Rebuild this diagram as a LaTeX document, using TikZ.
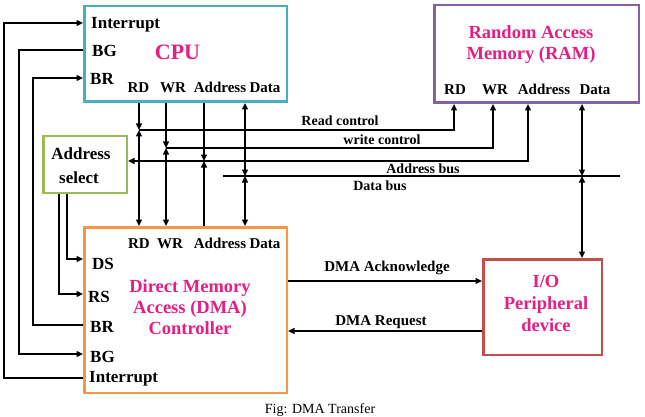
\documentclass[tikz,border=0pt]{standalone}
\usepackage{fontspec}
\setmainfont{Liberation Serif}
\usetikzlibrary{arrows.meta}
\definecolor{cpuc}{RGB}{75,172,198}
\definecolor{ramc}{RGB}{128,100,162}
\definecolor{asc}{RGB}{155,187,89}
\definecolor{dmac}{RGB}{247,150,70}
\definecolor{ioc}{RGB}{192,80,77}
\definecolor{pinkt}{RGB}{228,30,130}
\begin{document}
\begin{tikzpicture}[x=1pt,y=-1pt,
  box/.style={draw, line width=2.5pt, fill=white, inner sep=0pt},
  lab/.style={font=\fontsize{17}{17}\selectfont\bfseries, inner sep=0pt, anchor=base west},
  portlab/.style={font=\fontsize{15}{15}\selectfont\bfseries, inner sep=0pt, anchor=base},
  buslab/.style={font=\fontsize{14}{14}\selectfont\bfseries, inner sep=0pt, anchor=base},
  ttl/.style={font=\fontsize{18.5}{21.5}\selectfont\bfseries, text=pinkt, align=center, inner sep=0pt},
  wire/.style={line width=1.5pt},
  arr/.style={wire, -{Triangle[length=6.5pt,width=6pt]}},
  arrb/.style={wire, {Triangle[length=6.5pt,width=6pt]}-{Triangle[length=6.5pt,width=6pt]}},
  databus/.style={line width=1.1pt}
]
\path[use as bounding box] (0,0) rectangle (645,417);

% boxes
\node[box, draw=cpuc, minimum width=202.5pt, minimum height=95.5pt] (cpu) at (185.5,54) {};
\node[box, draw=ramc, minimum width=204.5pt, minimum height=97.5pt] (ram) at (536.5,54) {};
\node[box, draw=asc, minimum width=83.5pt, minimum height=56.5pt] (as) at (85,164.5) {};
\node[box, draw=dmac, minimum width=202.5pt, minimum height=165.5pt] (dma) at (185.5,310) {};
\node[box, draw=ioc, minimum width=118.5pt, minimum height=95.5pt] (io) at (542.5,307) {};

% titles
\node[ttl, font=\fontsize{22}{22}\selectfont\bfseries, anchor=base] (cputtl) at (177.5,60) {CPU};
\node[ttl, anchor=base] (ramttl1) at (531,39) {Random Access};
\node[ttl, anchor=base] (ramttl2) at (531,60) {Memory (RAM)};
\node[ttl, anchor=base] (dmattl1) at (190,292) {Direct Memory};
\node[ttl, anchor=base] (dmattl2) at (190,313) {Access (DMA)};
\node[ttl, anchor=base] (dmattl3) at (190,334) {Controller};
\node[ttl, anchor=base] (iottl1) at (546,287) {I/O};
\node[ttl, anchor=base] (iottl2) at (546,309) {Peripheral};
\node[ttl, anchor=base] (iottl3) at (546,331) {device};
\node[lab, anchor=base] (astxt1) at (81,160) {Address};
\node[lab, anchor=base] (astxt2) at (79,183) {select};

% CPU labels
\node[lab] (cI) at (91,29) {Interrupt};
\node[lab] (cG) at (92,57) {BG};
\node[lab] (cR) at (90,85) {BR};
\node[portlab] (cRD) at (138.5,93) {RD};
\node[portlab] (cWR) at (173,93) {WR};
\node[portlab] (cAD) at (220,93) {Address};
\node[portlab] (cDA) at (265,93) {Data};

% DMA labels
\node[portlab] (dRD) at (139,248) {RD};
\node[portlab] (dWR) at (170,248) {WR};
\node[portlab] (dAD) at (220,248) {Address};
\node[portlab] (dDA) at (265,248) {Data};
\node[lab] (dDS) at (92,269) {DS};
\node[lab] (dRS) at (88,302) {RS};
\node[lab] (dBR) at (90,332) {BR};
\node[lab] (dBG) at (90,362) {BG};
\node[lab] (dI) at (89,382) {Interrupt};

% RAM labels
\node[portlab] (rRDt) at (455,95) {RD};
\node[portlab] (rWRt) at (495,95) {WR};
\node[portlab] (rADt) at (544,95) {Address};
\node[portlab] (rDAt) at (595,95) {Data};

% bus labels
\node[buslab] (lrc) at (340,125) {Read control};
\node[buslab] (lwc) at (382,144) {write control};
\node[buslab] (lab) at (423,173) {Address bus};
\node[buslab] (ldb) at (380,190) {Data bus};
\node[buslab, font=\fontsize{15}{15}\selectfont\bfseries] (lack) at (387,271) {DMA Acknowledge};
\node[buslab, font=\fontsize{15}{15}\selectfont\bfseries] (lreq) at (381,325) {DMA Request};

% caption
\node[inner sep=0pt, anchor=base, font=\fontsize{14}{14}\selectfont] (cap) at (320,413) {Fig: DMA Transfer};

% coordinates
\coordinate (xRD) at (139,0);
\coordinate (xWR) at (166,0);
\coordinate (xAD) at (204,0);
\coordinate (xDA) at (245,0);
\coordinate (rRD) at (454,0);
\coordinate (rWR) at (493,0);
\coordinate (rAD) at (528,0);
\coordinate (rDA) at (582,0);
\coordinate (yRC) at (0,130);
\coordinate (yWC) at (0,148);
\coordinate (yAB) at (0,161);
\coordinate (yDB) at (0,176);
\coordinate (dbL) at (223,176);
\coordinate (dbR) at (620,176);
\coordinate (xI) at (4,0);
\coordinate (xG) at (19,0);
\coordinate (xR) at (33,0);
\coordinate (xRS) at (59,0);
\coordinate (xDS) at (67,0);
\coordinate (ycI) at (0,23);
\coordinate (ycG) at (0,50);
\coordinate (ycR) at (0,78);
\coordinate (ydS) at (0,259);
\coordinate (ydR) at (0,294);
\coordinate (ydBR) at (0,325);
\coordinate (ydBG) at (0,354);
\coordinate (ydI) at (0,378);
\coordinate (yACK) at (0,281);
\coordinate (yREQ) at (0,331);

% RD
\draw[arr] (cpu.south -| xRD) -- (xRD |- yRC);
\draw[arrb] (xRD |- yRC) -- (dma.north -| xRD);
\draw[arr] (xRD |- yRC) -| (ram.south -| rRD);
% WR
\draw[arr] (cpu.south -| xWR) -- (xWR |- yWC);
\draw[arrb] (xWR |- yWC) -- (dma.north -| xWR);
\draw[arr] (xWR |- yWC) -| (ram.south -| rWR);
% Address
\draw[arr] (cpu.south -| xAD) -- (xAD |- yAB);
\draw[arr] (dma.north -| xAD) -- (xAD |- yAB);
\draw[arrb] (as.east |- yAB) -| (ram.south -| rAD);
% Data
\draw[databus] (dbL) -- (dbR);
\draw[arrb] (cpu.south -| xDA) -- (xDA |- yDB);
\draw[arrb] (xDA |- yDB) -- (dma.north -| xDA);
\draw[arrb] (ram.south -| rDA) -- (rDA |- yDB);
\draw[arrb] (rDA |- yDB) -- (io.north -| rDA);

% left side control lines
\draw[arr] (dma.west |- ydI) -- (xI |- ydI) -- (xI |- ycI) -- (cpu.west |- ycI);
\draw[arr] (cpu.west |- ycG) -- (xG |- ycG) -- (xG |- ydBG) -- (dma.west |- ydBG);
\draw[arr] (dma.west |- ydBR) -- (xR |- ydBR) -- (xR |- ycR) -- (cpu.west |- ycR);
\draw[arr] (as.south -| xDS) |- (dma.west |- ydS);
\draw[arr] (as.south -| xRS) |- (dma.west |- ydR);

% DMA <-> IO
\draw[arr] (dma.east |- yACK) -- (io.west |- yACK);
\draw[arr] (io.west |- yREQ) -- (dma.east |- yREQ);
\end{tikzpicture}
\end{document}
